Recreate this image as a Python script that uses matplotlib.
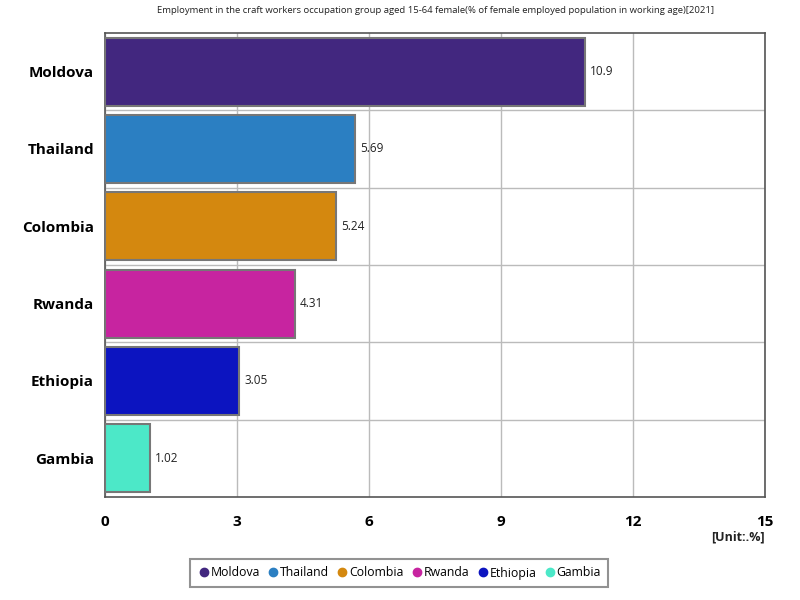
import matplotlib
matplotlib.use("Agg")
import matplotlib.pyplot as plt
from matplotlib.lines import Line2D
import numpy as np

countries = ["Moldova", "Thailand", "Colombia", "Rwanda", "Ethiopia", "Gambia"]
values = [10.9, 5.69, 5.24, 4.31, 3.05, 1.02]
labels = ["10.9", "5.69", "5.24", "4.31", "3.05", "1.02"]
colors = ["#42277F", "#2B7FC2", "#D4880F", "#C724A0", "#0C14C0", "#4CE8C8"]
xticks = [0, 3, 6, 9, 12, 15]

plt.rcParams['font.family'] = ['Open Sans', 'DejaVu Sans']

fig = plt.figure(figsize=(8, 6), dpi=100)
ax = fig.add_axes([0.13125, 0.1717, 0.825, 0.7733])

y = np.arange(len(countries))
ax.barh(y, values, height=0.88, color=colors, edgecolor="#777777", linewidth=1.5, zorder=3)
for yi, v, lab in zip(y, values, labels):
    ax.text(v + 0.12, yi, lab, va="center", ha="left", fontsize=8.5, color="#222222", zorder=4)

ax.set_ylim(len(countries) - 0.5, -0.5)
ax.set_xlim(0, 15)
ax.set_xticks(xticks)
ax.set_xticklabels([str(t) for t in xticks], fontsize=11, fontweight="bold")
ax.set_yticks(y)
ax.set_yticklabels(countries, fontsize=11, fontweight="bold")
ax.set_yticks(np.arange(len(countries) - 1) + 0.5, minor=True)
ax.tick_params(axis="both", which="both", length=0)
ax.tick_params(axis="x", pad=13)
ax.tick_params(axis="y", pad=8)
ax.grid(True, axis="x", which="major", color="#BBBBBB", linewidth=1, zorder=0)
ax.grid(True, axis="y", which="minor", color="#BBBBBB", linewidth=1, zorder=0)
for s in ax.spines.values():
    s.set_color("#555555")
    s.set_linewidth(1.2)

fig.text(0.544, 0.982, "Employment in the craft workers occupation group aged 15-64 female(% of female employed population in working age)[2021]",
         ha="center", va="center", fontsize=6.8, color="#222222")
fig.text(0.956, 0.105, "[Unit:.%]", ha="right", va="center", fontsize=9, fontweight="bold", color="#222222")

handles = [Line2D([0], [0], marker="o", linestyle="", markersize=6, markerfacecolor=c, markeredgecolor=c) for c in colors]
leg = fig.legend(handles, countries, loc="center", bbox_to_anchor=(0.499, 0.045), ncol=6, fontsize=8.8,
                 frameon=True, fancybox=False, handletextpad=0.05, columnspacing=0.6, borderpad=0.6,
                 handlelength=1.0, borderaxespad=0)
leg.get_frame().set_edgecolor("#777777")
leg.get_frame().set_linewidth(1.5)

fig.savefig("out.png", dpi=100)
